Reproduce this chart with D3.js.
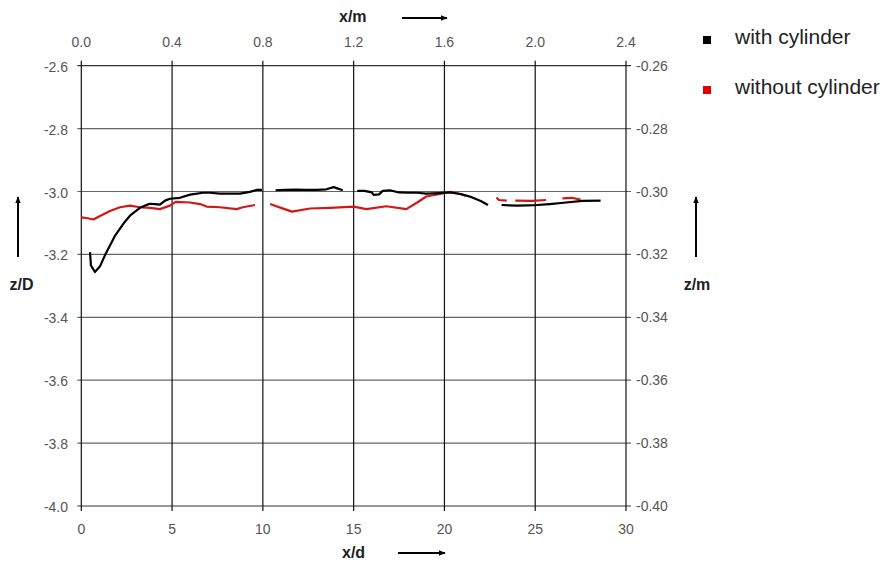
<!DOCTYPE html>
<html><head><meta charset="utf-8">
<script src="https://cdn.jsdelivr.net/npm/d3@7"></script>
<style>
html,body{margin:0;padding:0;background:#fff;}
svg{display:block;font-family:"Liberation Sans",Arial,sans-serif;}
</style></head><body>
<svg id="c" width="889" height="563"></svg>
<script>
// x/d ticks (bottom), x/m ticks (top), z/D ticks (left), z/m ticks (right)
const xdTicks = [0, 5, 10, 15, 20, 25, 30];
const xmTicks = [0.0, 0.4, 0.8, 1.2, 1.6, 2.0, 2.4];
const zDTicks = [-2.6, -2.8, -3.0, -3.2, -3.4, -3.6, -3.8, -4.0];
const zmTicks = [-0.26, -0.28, -0.30, -0.32, -0.34, -0.36, -0.38, -0.40];
const seriesNames = ["with cylinder", "without cylinder"];
const seriesColors = ["#000000", "#d01818"];

// with cylinder (null = gap)
const withX = [0.48, 0.53, 0.75, 1.03, 1.3, 1.58, 1.86, 2.13, 2.4, 2.68, 2.96, 3.23, 3.5, 3.78, 4.06, 4.33, 4.61, 4.88, 5.43, 5.99, 6.7, 7.09, 7.64, 8.74, 9.29, 9.67, 9.95,
  null,
  10.7, 11.2, 11.8, 12.4, 13.0, 13.5, 13.9, 14.1, 14.4,
  null,
  15.2, 15.6, 16.0, 16.1, 16.4, 16.6, 17.0, 17.5, 18.0, 18.5, 19.0, 19.7, 20.3, 20.9, 21.5, 22.0, 22.4,
  null,
  23.15, 24.0, 24.6, 25.1, 25.8, 26.7, 27.6, 28.6];
const withZ = [-3.193, -3.235, -3.256, -3.238, -3.203, -3.172, -3.140, -3.118, -3.096, -3.077, -3.064, -3.052, -3.045, -3.039, -3.040, -3.042, -3.029, -3.023, -3.020, -3.010, -3.004, -3.004, -3.007, -3.007, -3.001, -2.995, -2.995,
  null,
  -2.996, -2.995, -2.994, -2.995, -2.995, -2.993, -2.986, -2.990, -2.996,
  null,
  -2.998, -2.998, -3.003, -3.011, -3.009, -2.998, -2.996, -3.003, -3.004, -3.004, -3.007, -3.005, -3.003, -3.008, -3.018, -3.030, -3.043,
  null,
  -3.043, -3.045, -3.044, -3.043, -3.040, -3.035, -3.030, -3.029];

// without cylinder (null = gap)
const withoutX = [0.0, 0.35, 0.66, 1.03, 1.58, 2.13, 2.68, 3.23, 3.78, 4.33, 4.88, 5.2, 5.99, 6.54, 6.9, 7.64, 8.55, 8.9, 9.57,
  null,
  10.4, 11.0, 11.6, 12.6, 13.7, 15.0, 15.7, 16.8, 17.9, 18.5, 19.0, 19.75, 20.3, 20.85, 21.2,
  null,
  22.87, 23.0, 23.43,
  null,
  23.9, 24.8, 25.6,
  null,
  26.5, 27.0, 27.5];
const withoutZ = [-3.082, -3.085, -3.089, -3.078, -3.062, -3.050, -3.045, -3.050, -3.052, -3.056, -3.045, -3.033, -3.035, -3.040, -3.048, -3.050, -3.056, -3.050, -3.043,
  null,
  -3.040, -3.052, -3.064, -3.054, -3.052, -3.048, -3.056, -3.047, -3.056, -3.035, -3.016, -3.008, -3.001, -3.008, -3.014,
  null,
  -3.019, -3.027, -3.029,
  null,
  -3.029, -3.030, -3.027,
  null,
  -3.022, -3.020, -3.026];

const svg = d3.select("#c");
const L = 81.3, R = 626, T = 65.7, B = 506;
const x = d3.scaleLinear().domain([0, 30]).range([L, R]);
const xm = d3.scaleLinear().domain([0, 2.4]).range([L, R]);
const y = d3.scaleLinear().domain([-4.0, -2.6]).range([B, T]);
const ym = d3.scaleLinear().domain([-0.40, -0.26]).range([B, T]);
const hy = f => d => d3.format(f)(d).replace("\u2212", "-");

// horizontal gridlines
svg.append("g").selectAll("line").data(zDTicks).join("line")
  .attr("x1", L - 4).attr("x2", R + 5)
  .attr("y1", d => y(d)).attr("y2", d => y(d))
  .attr("stroke", d => (d === -2.6 || d === -4.0) ? "#333" : "#666").attr("stroke-width", 1.2);
// vertical gridlines
svg.append("g").selectAll("line").data(xdTicks).join("line")
  .attr("x1", d => x(d)).attr("x2", d => x(d))
  .attr("y1", T - 5).attr("y2", B + 5)
  .attr("stroke", "#111").attr("stroke-width", 1.2);

// left labels
svg.append("g").selectAll("text").data(zDTicks).join("text")
  .attr("x", 68).attr("y", d => y(d) + 6)
  .attr("text-anchor", "end").attr("font-size", 14).attr("fill", "#555")
  .text(hy(".1f"));
// right labels
svg.append("g").selectAll("text").data(zmTicks).join("text")
  .attr("x", 636).attr("y", d => ym(d) + 5)
  .attr("text-anchor", "start").attr("font-size", 14).attr("fill", "#555")
  .text(hy(".2f"));
// bottom labels
svg.append("g").selectAll("text").data(xdTicks).join("text")
  .attr("x", d => x(d)).attr("y", 534)
  .attr("text-anchor", "middle").attr("font-size", 14).attr("fill", "#555")
  .text(hy("d"));
// top labels
svg.append("g").selectAll("text").data(xmTicks).join("text")
  .attr("x", d => xm(d)).attr("y", 47)
  .attr("text-anchor", "middle").attr("font-size", 14).attr("fill", "#555")
  .text(hy(".1f"));

// series lines
const mk = (xs, zs) => xs.map((v, i) => [v, zs[i]]);
const line = d3.line().defined(d => d[0] !== null && d[1] !== null)
  .x(d => x(d[0])).y(d => y(d[1]));
svg.append("path").datum(mk(withoutX, withoutZ)).attr("d", line)
  .attr("fill", "none").attr("stroke", seriesColors[1]).attr("stroke-width", 2.2).attr("stroke-linejoin", "round");
svg.append("path").datum(mk(withX, withZ)).attr("d", line)
  .attr("fill", "none").attr("stroke", seriesColors[0]).attr("stroke-width", 2.2).attr("stroke-linejoin", "round");

// legend
const lg = svg.append("g").selectAll("g").data(seriesNames).join("g")
  .attr("transform", (d, i) => `translate(703,${36 + i * 50})`);
lg.append("rect").attr("width", 8).attr("height", 8).attr("fill", (d, i) => i ? "#e00000" : "#000");
lg.append("text").attr("x", 32).attr("y", 8).attr("font-size", 21).attr("fill", "#222").text(d => d);

// axis titles with arrows
svg.append("defs").append("marker").attr("id", "ah").attr("viewBox", "0 0 10 10")
  .attr("refX", 9).attr("refY", 5).attr("markerWidth", 7).attr("markerHeight", 7)
  .attr("markerUnits", "userSpaceOnUse").attr("orient", "auto")
  .append("path").attr("d", "M0,1 L10,5 L0,9 Z").attr("fill", "#000");
const arrow = (x1, y1, x2, y2) => svg.append("line").attr("x1", x1).attr("y1", y1).attr("x2", x2).attr("y2", y2)
  .attr("stroke", "#000").attr("stroke-width", 2).attr("marker-end", "url(#ah)");
const title = (tx, ty, t, anchor) => svg.append("text").attr("x", tx).attr("y", ty).attr("text-anchor", anchor)
  .attr("font-size", 16).attr("font-weight", "bold").attr("fill", "#222").text(t);
title(339, 22, "x/m", "start"); arrow(402, 18, 447, 18);
title(342, 558, "x/d", "start"); arrow(398, 553, 445, 553);
title(21.5, 290, "z/D", "middle"); arrow(18, 257, 18, 197);
title(697, 290, "z/m", "middle"); arrow(696, 257, 696, 197);
</script></body></html>
